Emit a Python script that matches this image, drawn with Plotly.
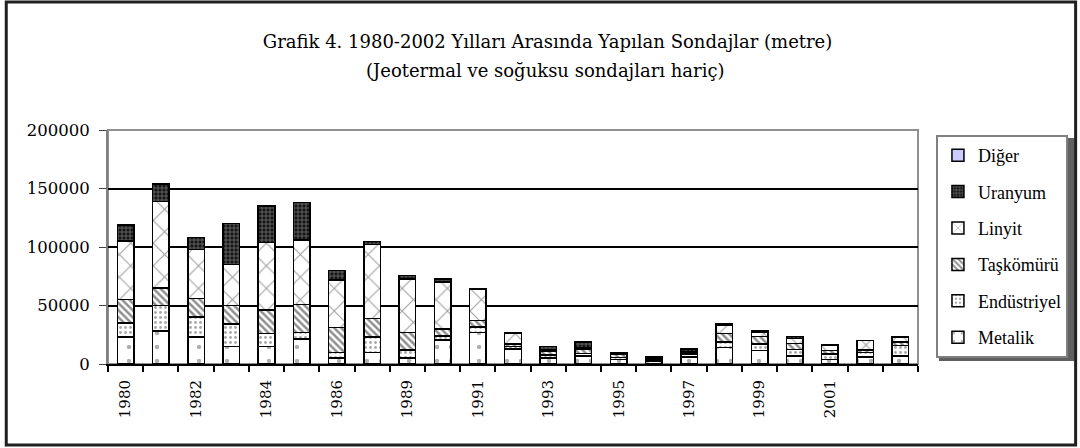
import plotly.graph_objects as go

years = ["1980", "1981", "1982", "1983", "1984", "1985", "1986", "1987",
         "1989", "1990", "1991", "1992", "1993", "1994", "1995", "1996",
         "1997", "1998", "1999", "2000", "2001", "2002", "2003"]

metalik     = [23000, 28000, 23000, 15000, 15000, 21500, 5000, 10000, 5000, 20500, 27000, 13000, 5000, 7000, 4000, 2500, 6000, 14300, 11500, 7000, 4000, 6000, 7000]
endustriyel = [12000, 22000, 17000, 19000, 11000, 5500, 5000, 13000, 7000, 3500, 4500, 2000, 2500, 2000, 1500, 1000, 2500, 4300, 5500, 5500, 4500, 4000, 9000]
taskomuru   = [20000, 15000, 16000, 16000, 20000, 24000, 21000, 16000, 15000, 6000, 5500, 2000, 3000, 4000, 2500, 1500, 1500, 7400, 6500, 5000, 3000, 2000, 3000]
linyit      = [50000, 74000, 42000, 35000, 58000, 55000, 41000, 63000, 45500, 40000, 27000, 9000, 1500, 1000, 500, 500, 500, 7400, 4000, 4500, 4500, 8000, 4000]
uranyum     = [14000, 15000, 10000, 35000, 31000, 32000, 8000, 2500, 3000, 2500, 0, 300, 3000, 4600, 1500, 300, 2500, 800, 1000, 1400, 600, 0, 400]
diger       = [0] * 23

series_names = ["Metalik", "Endüstriyel", "Taşkömürü", "Linyit", "Uranyum", "Diğer"]
series_vals = [metalik, endustriyel, taskomuru, linyit, uranyum, diger]

y_ticks = [0, 50000, 100000, 150000, 200000]

title_line1 = "Grafik 4. 1980-2002 Yılları Arasında Yapılan Sondajlar (metre)"
title_line2 = "(Jeotermal ve soğuksu sondajları hariç)"

patterns = [
    dict(shape=".", fgcolor="#606060", bgcolor="white", size=14, solidity=0.08),
    dict(shape=".", fgcolor="#505050", bgcolor="white", size=5, solidity=0.25),
    dict(shape="\\", fgcolor="#202020", bgcolor="white", size=5, solidity=0.5),
    dict(shape="x", fgcolor="#404040", bgcolor="white", size=16, solidity=0.13),
    dict(shape="+", fgcolor="#d0d0d0", bgcolor="#151515", size=4, solidity=0.35),
]

FONT = "DejaVu Serif, serif"
LFONT = "Liberation Serif, Times New Roman, serif"

xs = list(range(len(years)))
fig = go.Figure()
n = len(series_names)
for i, (name, vals) in enumerate(zip(series_names, series_vals)):
    if name == "Diğer":
        mk = dict(color="#ccccff", line=dict(color="black", width=1.5))
    else:
        mk = dict(color="white", line=dict(color="black", width=1.5), pattern=patterns[i])
    fig.add_trace(go.Bar(x=xs, y=vals, name=name, marker=mk, width=0.47,
                         legendgroup=name, legendrank=1000 - i))

# geometry helpers (pixel -> paper)
L, R, T, B = 108, 160, 130, 84
W, H = 1080, 448
pw, ph = W - L - R, H - T - B
def px(x): return (x - L) / pw
def py(y): return (H - B - y) / ph

fig.update_layout(
    width=W, height=H,
    barmode="stack",
    margin=dict(l=L, r=R, t=T, b=B),
    paper_bgcolor="white", plot_bgcolor="white",
    font=dict(family=FONT, color="black", size=16),
    title=dict(text=title_line1, x=0.507, xanchor="center",
               y=1 - 42 / H, yanchor="middle", font=dict(family=FONT, size=18, color="black")),
    annotations=[
        dict(text=title_line2, xref="paper", yref="paper", x=px(547), y=py(70),
             xanchor="center", yanchor="middle", showarrow=False,
             font=dict(family=FONT, size=18, color="black")),
    ],
    showlegend=True,
    legend=dict(x=px(938), y=py(135), xanchor="left", yanchor="top",
                traceorder="grouped", bgcolor="white", bordercolor="#808080",
                borderwidth=2, font=dict(family=LFONT, size=18, color="black"),
                itemwidth=30, tracegroupgap=10),
    xaxis=dict(range=[-0.5, len(years) - 0.5], tickmode="array",
               tickvals=xs[0:21:2], ticktext=years[0:21:2], tickangle=-90,
               ticks="", showgrid=False, showline=True, linecolor="black",
               linewidth=2, zeroline=False, ticklabelstandoff=8,
               tickfont=dict(family=FONT, size=15, color="black"),
               minor=dict(tickmode="array", tickvals=[v - 0.5 for v in range(len(years) + 1)],
                          ticks="outside", ticklen=6, tickwidth=2, tickcolor="black",
                          showgrid=False)),
    yaxis=dict(range=[0, 200000], tickmode="array", tickvals=y_ticks,
               ticktext=[str(v) for v in y_ticks], showgrid=True, gridcolor="black",
               gridwidth=2, showline=True, linecolor="#808080", linewidth=2,
               ticks="outside", ticklen=7, tickcolor="#404040", tickwidth=1,
               zeroline=False, ticklabelstandoff=6,
               tickfont=dict(family=FONT, size=16.5, color="black")),
    shapes=[
        dict(type="rect", xref="paper", yref="paper", x0=0, x1=1, y0=0, y1=1,
             line=dict(color="#909090", width=2), layer="below"),
        dict(type="rect", xref="paper", yref="paper", x0=px(6), x1=px(1078),
             y0=py(445), y1=py(2), line=dict(color="#202020", width=3)),
        dict(type="rect", xref="paper", yref="paper", x0=px(941), x1=px(1077),
             y0=py(361), y1=py(138), fillcolor="#606060", line=dict(width=0),
             layer="below"),
    ],
)

fig.write_html("out.html", config={"displayModeBar": False},
               post_script="document.body.style.margin='0';")
